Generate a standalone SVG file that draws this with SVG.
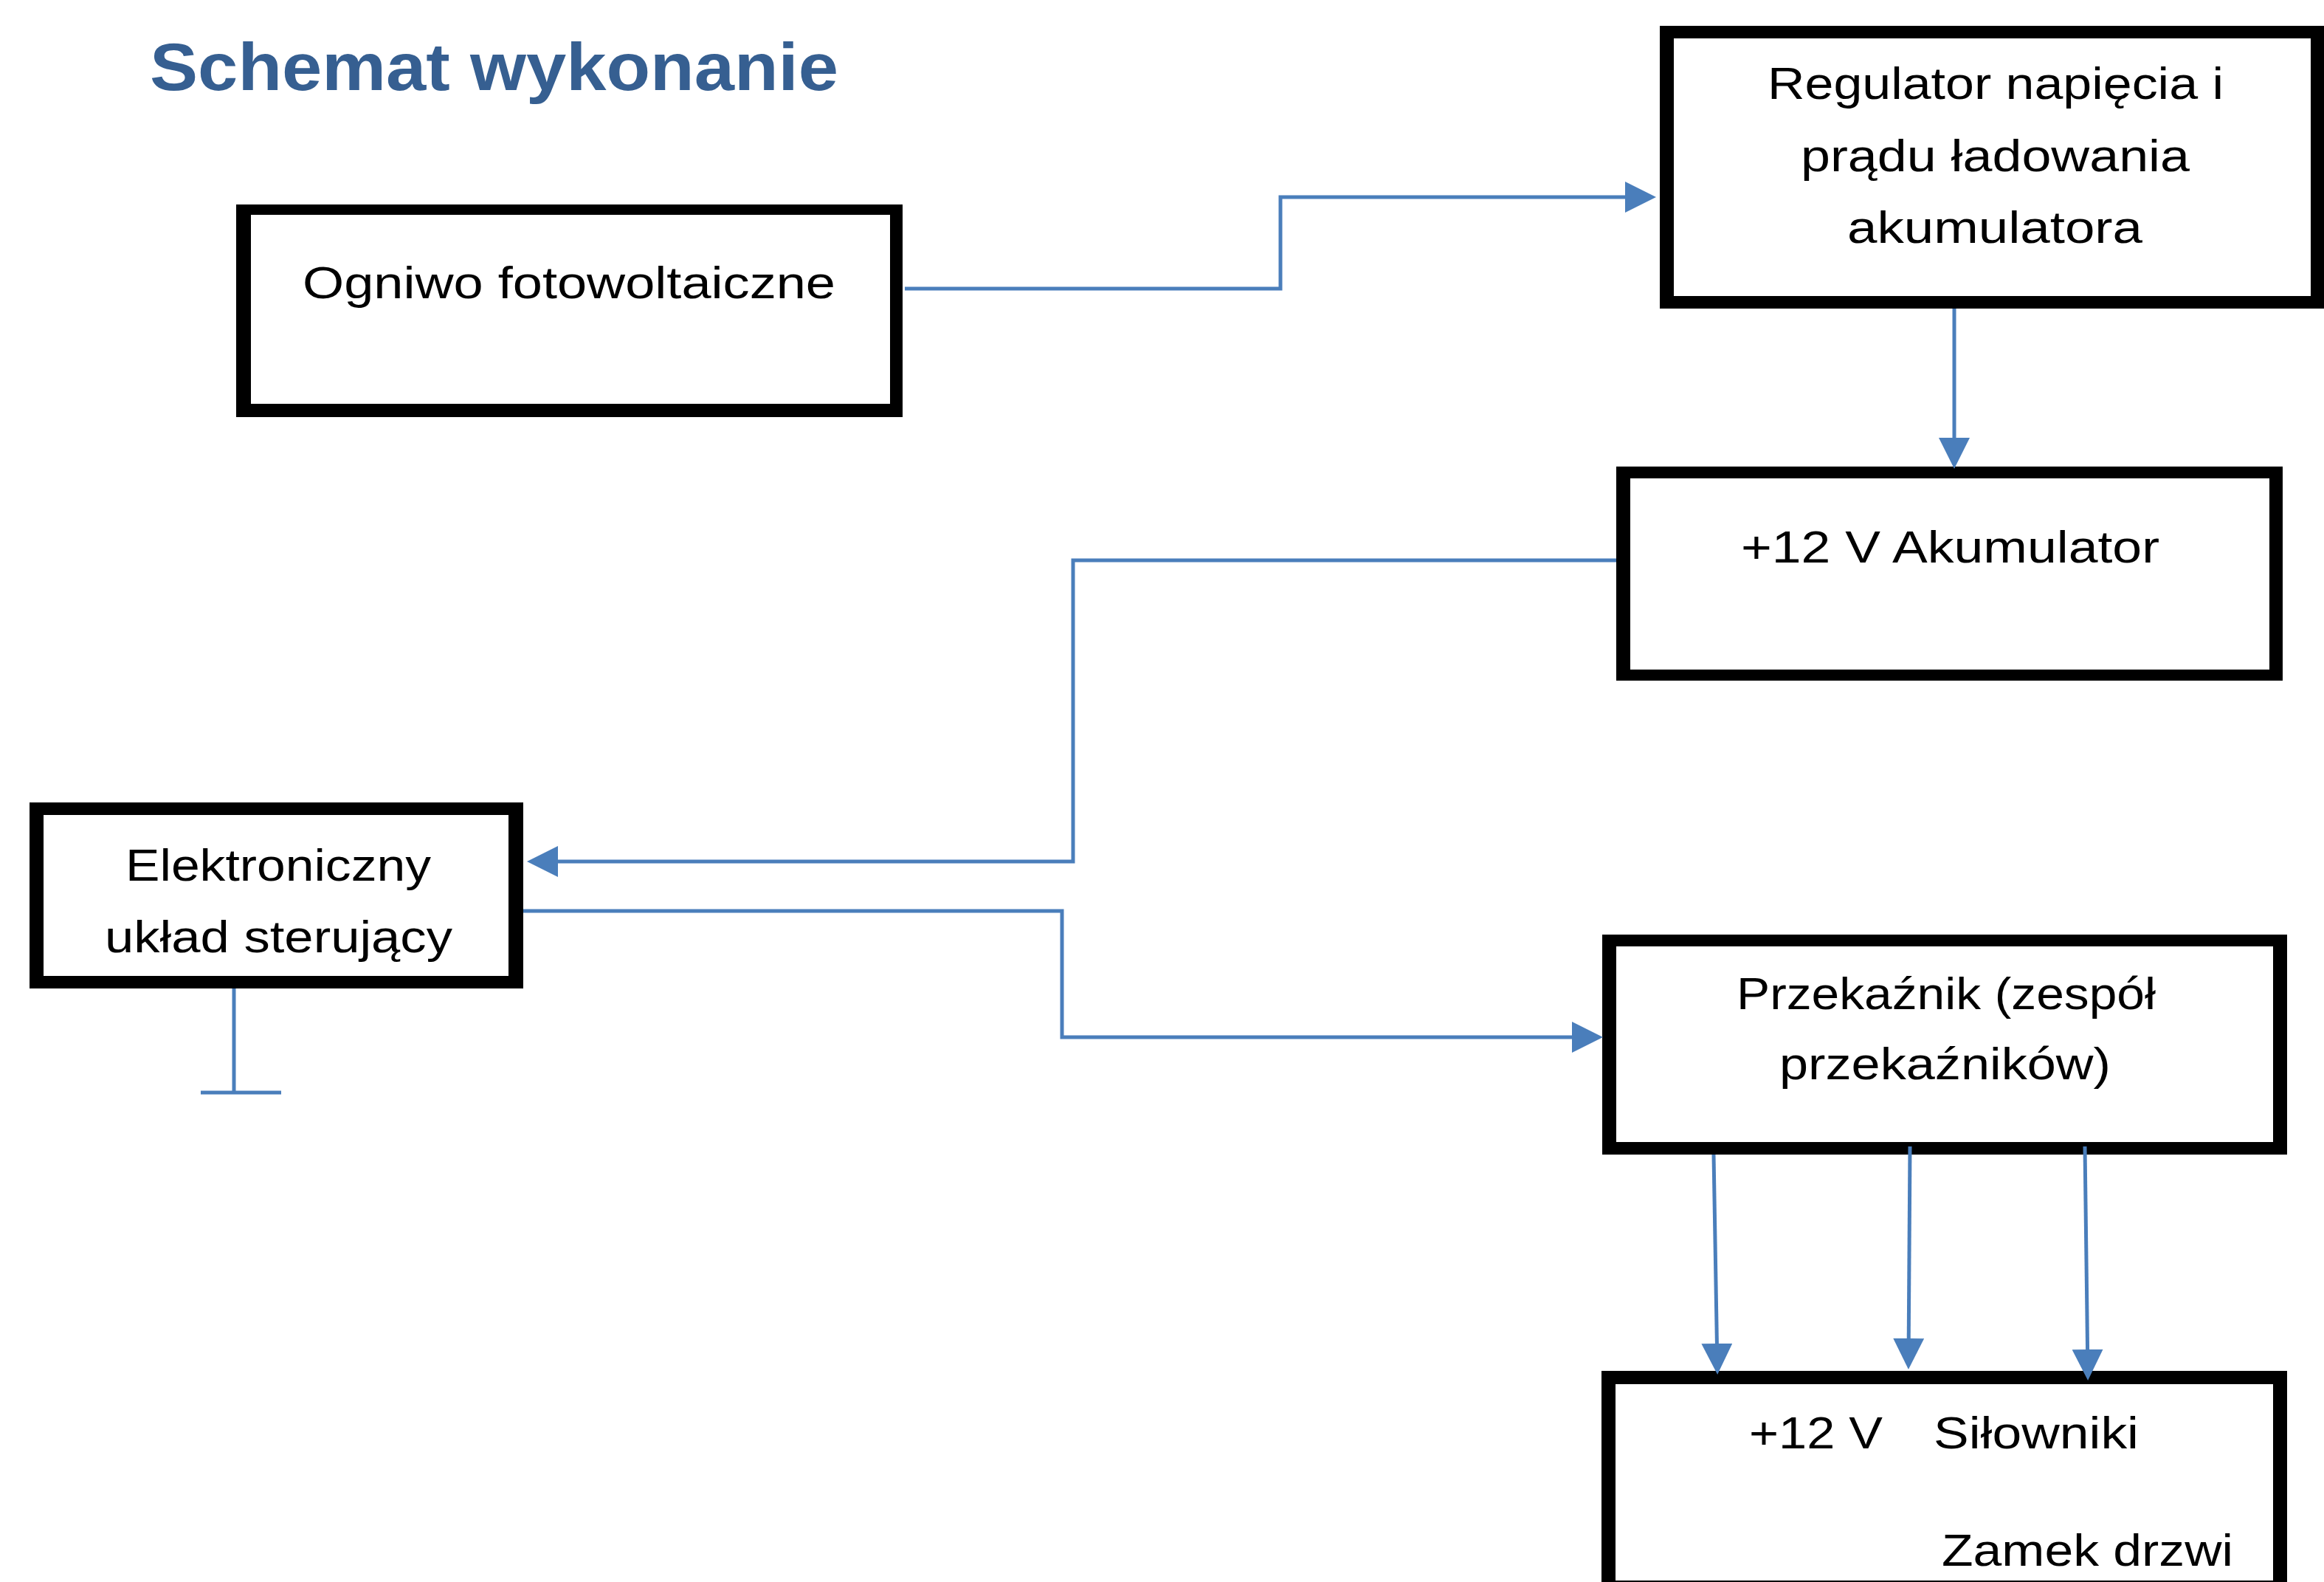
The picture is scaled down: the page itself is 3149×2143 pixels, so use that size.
<svg xmlns="http://www.w3.org/2000/svg" width="3149" height="2143" viewBox="0 0 3149 2143">
<style>
.frame{fill:#000;fill-rule:evenodd}
.lbl{font-family:"Liberation Sans",Arial,sans-serif;font-size:62px;fill:#000}
.title{font-family:"Liberation Sans",Arial,sans-serif;font-size:91px;font-weight:bold;fill:#365F91}
.wire{fill:none;stroke:#4A7EBB;stroke-width:5}
.arr{marker-end:url(#ah)}
</style>
<defs>
<marker id="ah" markerUnits="userSpaceOnUse" viewBox="0 0 42 42" markerWidth="42" markerHeight="42" refX="34" refY="21" orient="auto">
<path d="M0,0 L42,21 L0,42 Z" fill="#4A7EBB"/>
</marker>
</defs>
<rect width="3149" height="2143" fill="#fff"/>
<text class="title" x="203" y="122" textLength="933" lengthAdjust="spacingAndGlyphs">Schemat wykonanie</text>

<g id="node-ogniwo">
<path class="frame" d="M320,277 H1223 V565 H320 Z M340,291 V547 H1206 V291 Z"/>
<text class="lbl" x="410" y="404" textLength="722" lengthAdjust="spacingAndGlyphs">Ogniwo fotowoltaiczne</text>
</g>

<g id="node-regulator">
<path class="frame" d="M2249,35 H3149 V418 H2249 Z M2268,52 V401 H3131 V52 Z"/>
<text class="lbl" x="2395" y="134" textLength="618" lengthAdjust="spacingAndGlyphs">Regulator napięcia i</text>
<text class="lbl" x="2440" y="232" textLength="527" lengthAdjust="spacingAndGlyphs">prądu ładowania</text>
<text class="lbl" x="2503" y="329" textLength="400" lengthAdjust="spacingAndGlyphs">akumulatora</text>
</g>

<g id="node-akumulator">
<path class="frame" d="M2190,632 H3093 V922 H2190 Z M2209,648 V907 H3075 V648 Z"/>
<text class="lbl" x="2359" y="762" textLength="567" lengthAdjust="spacingAndGlyphs">+12 V Akumulator</text>
</g>

<g id="node-uklad">
<path class="frame" d="M40,1087 H709 V1339 H40 Z M59,1104 V1322 H689 V1104 Z"/>
<text class="lbl" x="170" y="1193" textLength="414" lengthAdjust="spacingAndGlyphs">Elektroniczny</text>
<text class="lbl" x="142" y="1290" textLength="471" lengthAdjust="spacingAndGlyphs">układ sterujący</text>
</g>

<g id="node-przekaznik">
<path class="frame" d="M2171,1266 H3099 V1564 H2171 Z M2190,1282 V1547 H3080 V1282 Z"/>
<text class="lbl" x="2353" y="1367" textLength="568" lengthAdjust="spacingAndGlyphs">Przekaźnik (zespół</text>
<text class="lbl" x="2411" y="1462" textLength="449" lengthAdjust="spacingAndGlyphs">przekaźników)</text>
</g>

<g id="node-silowniki">
<path class="frame" d="M2170,1857 H3099 V2160 H2170 Z M2189,1875 V2141 H3080 V1875 Z"/>
<text class="lbl" x="2370" y="1962" textLength="181" lengthAdjust="spacingAndGlyphs">+12 V</text>
<text class="lbl" x="2620" y="1962" textLength="278" lengthAdjust="spacingAndGlyphs">Siłowniki</text>
<text class="lbl" x="2631" y="2121" textLength="395" lengthAdjust="spacingAndGlyphs">Zamek drzwi</text>
</g>

<g id="connectors">
<path class="wire arr" d="M1226,391 H1735 V267 H2236"/>
<path class="wire arr" d="M2648,418 V627"/>
<path class="wire arr" d="M2190,759 H1454 V1167 H722"/>
<path class="wire arr" d="M709,1234 H1439 V1405 H2164"/>
<path class="wire arr" d="M2322,1564 L2327,1854"/>
<path class="wire arr" d="M2588,1553 L2586,1847"/>
<path class="wire arr" d="M2825,1553 L2829,1862"/>
<path class="wire" d="M317,1339 V1480 M272,1480 H381"/>
</g>
</svg>
